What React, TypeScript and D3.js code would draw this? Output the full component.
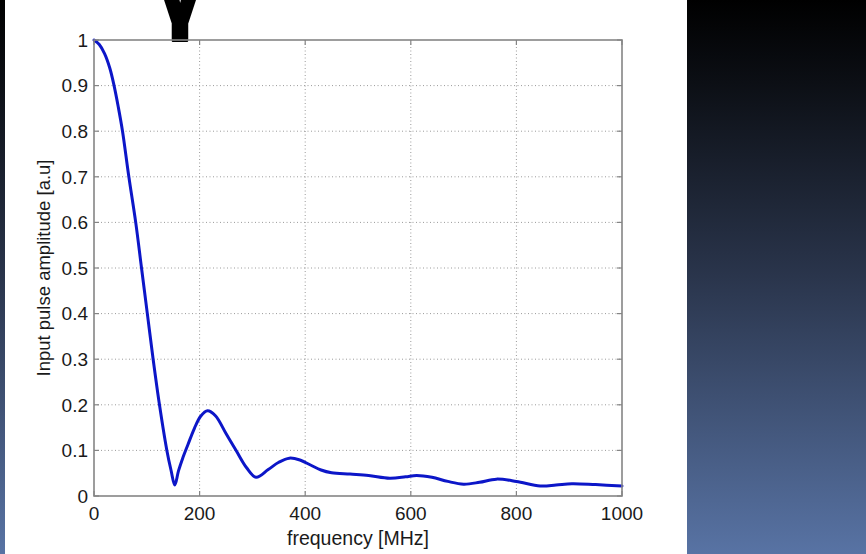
import React from "react";
import * as d3 from "d3";

// Spectrum of the input pulse: frequency (MHz) vs normalised amplitude
const freqMHz = [
  0, 10, 20, 30, 38, 46, 54, 66, 79, 90, 101, 112, 124, 138, 146, 153, 160, 168, 178,
  190, 202, 215, 230, 250, 270, 289, 307, 330, 350, 370, 390, 410, 430, 450, 485, 520,
  560, 590, 611, 640, 670, 700, 730, 762, 800, 845, 875, 905, 950, 1000,
];
const amplitude = [
  1, 0.99, 0.97, 0.938, 0.9, 0.853, 0.8, 0.7, 0.6, 0.5, 0.4, 0.3, 0.2, 0.1, 0.056, 0.024,
  0.055, 0.083, 0.113, 0.148, 0.175, 0.187, 0.176, 0.137, 0.098, 0.062, 0.041, 0.058,
  0.074, 0.083, 0.079, 0.068, 0.057, 0.051, 0.048, 0.045, 0.039, 0.042, 0.045, 0.041,
  0.032, 0.026, 0.03, 0.037, 0.032, 0.022, 0.024, 0.027, 0.025, 0.022,
];

const xTicks = [0, 200, 400, 600, 800, 1000];
const yTicks = [0, 0.1, 0.2, 0.3, 0.4, 0.5, 0.6, 0.7, 0.8, 0.9, 1];
const xLabel = "frequency [MHz]";
const yLabel = "Input pulse amplitude [a.u]";
const titleGlyph = "γ";

const W = 866;
const H = 554;
const plot = { left: 94, right: 622, top: 40, bottom: 496 };

export default function App() {
  const x = d3.scaleLinear().domain([0, 1000]).range([plot.left, plot.right]);
  const y = d3.scaleLinear().domain([0, 1]).range([plot.bottom, plot.top]);

  const pts: [number, number][] = freqMHz.map((f, i) => [f, amplitude[i]]);
  const line = d3
    .line<[number, number]>()
    .x((d) => x(d[0]))
    .y((d) => y(d[1]))
    .curve(d3.curveCatmullRom.alpha(0.5));

  const font = "'Liberation Sans', Arial, Helvetica, sans-serif";
  const tickLen = 5;
  const frameColor = "#858585";

  return (
    <svg
      width={W}
      height={H}
      style={{ position: "absolute", left: 0, top: 0, display: "block" }}
    >
      <defs>
        <linearGradient id="slideBg" x1="0" y1="0" x2="0" y2="1">
          <stop offset="0" stopColor="#000000" />
          <stop offset="0.15" stopColor="#0c0f15" />
          <stop offset="0.5" stopColor="#2a354c" />
          <stop offset="1" stopColor="#5873a4" />
        </linearGradient>
      </defs>

      {/* slide background and white figure panel */}
      <rect x={0} y={0} width={W} height={H} fill="url(#slideBg)" />
      <rect x={5} y={0} width={682} height={H} fill="#ffffff" />

      {/* heavy title glyph running off the top edge */}
      <text
        x={180}
        y={23}
        textAnchor="middle"
        fontFamily="Roboto, 'Open Sans', sans-serif"
        fontWeight={900}
        fontSize={88}
        fill="#000"
        stroke="#000"
        strokeWidth={2}
        strokeLinejoin="round"
      >
        {titleGlyph}
      </text>

      {/* dotted grid */}
      <g stroke="#9a9a9a" strokeWidth={1} strokeDasharray="1 2.5">
        {xTicks.slice(1, -1).map((t) => (
          <line key={"gx" + t} x1={x(t)} x2={x(t)} y1={plot.top} y2={plot.bottom} />
        ))}
        {yTicks.slice(1, -1).map((t) => (
          <line key={"gy" + t} x1={plot.left} x2={plot.right} y1={y(t)} y2={y(t)} />
        ))}
      </g>

      {/* inward ticks on all four sides */}
      <g stroke={frameColor} strokeWidth={1.2}>
        {xTicks.map((t) => (
          <g key={"tx" + t}>
            <line x1={x(t)} x2={x(t)} y1={plot.bottom} y2={plot.bottom - tickLen} />
            <line x1={x(t)} x2={x(t)} y1={plot.top} y2={plot.top + tickLen} />
          </g>
        ))}
        {yTicks.map((t) => (
          <g key={"ty" + t}>
            <line x1={plot.left} x2={plot.left + tickLen} y1={y(t)} y2={y(t)} />
            <line x1={plot.right} x2={plot.right - tickLen} y1={y(t)} y2={y(t)} />
          </g>
        ))}
      </g>

      {/* data curve */}
      <path
        d={line(pts) ?? ""}
        fill="none"
        stroke="#0c16c8"
        strokeWidth={3}
        strokeLinejoin="round"
        strokeLinecap="round"
      />

      {/* axes box */}
      <rect
        x={plot.left}
        y={plot.top}
        width={plot.right - plot.left}
        height={plot.bottom - plot.top}
        fill="none"
        stroke={frameColor}
        strokeWidth={1.6}
      />

      {/* tick labels */}
      <g fontFamily={font} fontSize={19} fill="#1a1a1a">
        {yTicks.map((t) => (
          <text key={"ly" + t} x={plot.left - 6} y={y(t)} dy="0.36em" textAnchor="end">
            {d3.format("~g")(t)}
          </text>
        ))}
        {xTicks.map((t) => (
          <text key={"lx" + t} x={x(t)} y={520} textAnchor="middle">
            {t}
          </text>
        ))}
      </g>

      {/* axis titles */}
      <text
        x={(plot.left + plot.right) / 2}
        y={545}
        textAnchor="middle"
        fontFamily={font}
        fontSize={19.5}
        fill="#1a1a1a"
      >
        {xLabel}
      </text>
      <text
        transform={`translate(50, ${(plot.top + plot.bottom) / 2}) rotate(-90)`}
        textAnchor="middle"
        fontFamily={font}
        fontSize={18.5}
        fill="#1a1a1a"
      >
        {yLabel}
      </text>
    </svg>
  );
}
